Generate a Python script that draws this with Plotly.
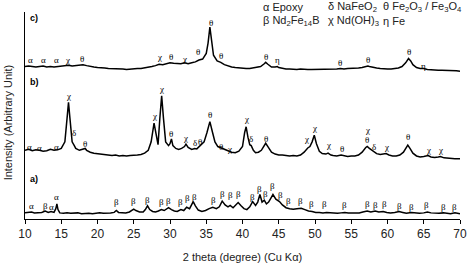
import plotly.graph_objects as go

# ---------------- data ----------------
# pattern a)
tt_a = [10, 10.5, 10.9, 11.3, 11.8, 12.3, 12.8, 13.2, 13.6, 14.0, 14.25, 14.4, 14.55, 14.8, 15.3, 15.8,
        16.3, 16.8, 17.3, 17.8, 18.3, 18.8, 19.3, 19.8, 20.3, 20.8, 21.3, 21.8, 22.3, 22.6, 22.9, 23.4,
        23.9, 24.4, 24.7, 25.0, 25.3, 25.8, 26.3, 26.6, 26.9, 27.2, 27.6, 28.0, 28.4, 28.8, 29.2, 29.5,
        29.8, 30.2, 30.6, 31.0, 31.5, 31.9, 32.3, 32.7, 33.0, 33.2, 33.5, 33.9, 34.4, 34.9, 35.4, 35.9,
        36.4, 36.8, 37.2, 37.6, 38.0, 38.3, 38.7, 39.0, 39.4, 39.8, 40.2, 40.6, 41.0, 41.4, 41.8, 42.1,
        42.4, 42.7, 43.0, 43.3, 43.6, 43.9, 44.2, 44.6, 45.1, 45.5, 46.0, 46.5, 47.0, 47.5, 48.1, 48.6,
        49.1, 49.6, 50.1, 50.6, 51.1, 51.6, 52.1, 52.6, 53.1, 53.6, 54.1, 54.6, 55.1, 55.6, 56.1, 56.6,
        57.2, 57.7, 58.3, 58.8, 59.4, 59.9, 60.4, 61.0, 61.6, 62.1, 62.6, 63.3, 63.8, 64.4, 65.0, 65.5,
        66.0, 66.6, 67.1, 67.7, 68.2, 68.7, 69.3, 69.8, 70]
int_a = [6.5, 7, 7.5, 6.5, 7, 7, 8.5, 7, 8, 7, 11, 16, 10, 6.5, 6, 6.5,
         6, 6, 6.5, 5.5, 6, 6, 5.5, 6, 6.5, 6, 6, 6.5, 7, 9, 7, 6.5,
         6.5, 7.5, 9, 10.5, 9, 7.5, 7.5, 10, 14, 10, 8, 7.5, 8.5, 10, 9, 11,
         12, 10, 8.5, 8, 10, 9, 12.5, 11, 15, 18.5, 14, 9.5, 8, 9, 11, 12.5,
         11, 13, 19, 15, 13, 14.5, 12, 14, 17.5, 14, 11, 10, 13, 18.5, 14.5, 18,
         26, 18, 20, 16, 18, 22, 26, 21, 18.5, 15, 12, 11, 10.5, 11, 11.5, 10,
         8.5, 8, 7, 7, 6.5, 7, 6.5, 6.5, 6, 6.5, 7, 6.5, 6.5, 6.5, 6.5, 7.5,
         8.5, 7.5, 8.5, 7.5, 8, 7, 6.5, 7, 8, 7, 6, 7, 6.5, 6, 6.5, 7.5,
         6.5, 6, 6, 6.5, 6, 5.5, 6.5, 5.5, 5.5]

# pattern b)
tt_b = [10, 10.5, 11, 11.5, 12, 12.5, 13, 13.5, 14, 14.5, 15, 15.5, 15.8, 16.0, 16.2, 16.5, 16.8, 17,
        17.5, 18, 18.3, 18.5, 19, 19.5, 20, 20.5, 21, 21.5, 22, 22.5, 23, 23.5, 24, 24.5, 25, 25.5,
        26, 26.5, 27, 27.4, 27.8, 28.1, 28.35, 28.6, 28.85, 29.1, 29.4, 29.8, 30.0, 30.2, 30.4, 30.8,
        31.2, 31.6, 32, 32.2, 32.5, 33, 33.4, 33.7, 34.2, 34.7, 35.1, 35.5, 35.8, 36.2, 36.6, 37.0,
        37.5, 38, 38.5, 39, 39.5, 40, 40.3, 40.5, 40.75, 41.0, 41.2, 41.5, 41.8, 42.2, 42.6, 43, 43.2,
        43.5, 44, 44.5, 45, 45.5, 46, 46.5, 47, 47.5, 48, 48.5, 49, 49.3, 49.6, 49.9, 50.2, 50.6, 51,
        51.5, 51.8, 52.2, 52.5, 53, 53.6, 54, 54.5, 55, 55.5, 56, 56.5, 57, 57.2, 57.5, 58, 58.5, 59,
        59.5, 59.8, 60.2, 60.7, 61.2, 61.7, 62.2, 62.6, 62.8, 63.1, 63.5, 64, 64.5, 65, 65.6, 66, 66.5,
        67, 67.3, 67.8, 68.3, 68.8, 69.3, 70]
int_b = [13, 14, 12.5, 13.5, 13, 12, 12.5, 14, 13, 13.5, 15, 22, 47, 64, 47, 22, 18, 15,
         13, 14, 15, 13, 11, 10, 9.5, 9, 8.5, 8, 7.5, 8, 7, 7.5, 7, 7.5, 7.5, 8,
         8.5, 10, 13, 22, 42, 27, 19, 47, 71, 47, 22, 18, 20, 25, 18, 15,
         14, 15, 17, 19.5, 16, 14, 15, 14.5, 18, 22, 32, 43.5, 34, 22, 17, 15.5,
         14, 12.5, 11, 10.5, 12, 17, 32, 38, 27, 19, 18, 13, 10.5, 11, 13, 18, 20.5,
         17, 11, 9, 8, 8, 7.5, 7, 7.5, 7, 8, 11, 15.5, 17, 22, 29, 20, 12, 9.5,
         9, 10, 8, 7.5, 7, 8, 7, 6.5, 7, 7, 8, 11, 16, 17, 15, 12, 9.5, 8.5,
         9, 9.5, 8, 7, 7, 8, 11, 16, 18.5, 15, 10, 7, 6, 6.5, 7.5, 6, 5.5,
         6, 6.5, 5, 4.5, 4.5, 4, 4]

# pattern c)
tt_c = [10, 10.5, 11, 11.5, 12, 12.5, 13, 13.5, 14, 14.5, 15, 15.5, 16, 16.5, 17, 17.5, 18, 18.5,
        19, 19.5, 20, 20.5, 21, 21.5, 22, 22.5, 23, 23.5, 24, 24.5, 25, 25.5, 26, 26.5, 27, 27.5,
        28, 28.5, 29, 29.5, 30, 30.5, 31, 31.5, 32, 32.5, 33, 33.5, 34, 34.5, 35, 35.25, 35.5, 35.7,
        36, 36.5, 37, 37.5, 38, 38.5, 39, 39.5, 40, 40.5, 41, 41.5, 42, 42.5, 43, 43.2, 43.5, 44,
        44.5, 44.8, 45, 45.5, 46, 46.5, 47, 47.5, 48, 48.5, 49, 49.5, 50, 50.5, 51, 51.5, 52, 52.5,
        53, 53.5, 54, 54.5, 55, 55.5, 56, 56.5, 57, 57.3, 57.5, 58, 58.5, 59, 59.5, 60, 60.5, 61,
        61.5, 62, 62.5, 62.9, 63.2, 63.5, 64, 64.5, 65, 65.5, 66, 66.5, 67, 67.5, 68, 68.5, 69, 69.5, 70]
int_c = [12, 12.5, 12, 11.5, 12, 12.5, 11.5, 12, 11.5, 12, 12, 12.5, 13.5, 12.5, 13, 13.5, 14, 13,
         12, 11.5, 11, 11, 10.5, 10, 10, 9.5, 10, 9.5, 9, 9.5, 9.5, 10, 10, 10.5, 11, 12,
         13, 14.5, 14, 15, 16, 15.5, 15, 15, 16, 15, 16, 17, 19, 20, 26, 37, 54, 42,
         24, 18, 16.5, 14, 12.5, 11.5, 11, 10.5, 10, 10, 10, 10.5, 11, 12, 15, 16.5, 14.5, 11.5,
         11.5, 12, 11, 10, 9.5, 9.5, 9, 9, 9.5, 9, 9, 9, 9, 9, 9, 9.5, 9, 9.5,
         9.5, 10, 9.5, 10, 10, 10, 10.5, 11, 12, 12.5, 12, 11, 10.5, 10, 9.5, 9.5, 9.5, 10,
         10.5, 12, 16, 20.5, 18, 14, 11, 10, 10, 9, 8.5, 8.5, 8, 8, 8, 7.5, 7.5, 7.5, 7]

# peak labels: (2theta, symbol, label height)
labels_a = [(10.9, "α", 13.7), (12.8, "β", 13.7), (13.6, "α", 13), (14.4, "α", 23.7),
            (22.6, "β", 17.7), (25.0, "β", 18.7), (26.9, "β", 19.7), (28.8, "β", 17.7),
            (29.8, "β", 19.3), (31.5, "β", 17.7), (32.4, "β", 22), (33.4, "β", 23.7),
            (36.0, "β", 20.3), (37.2, "β", 27), (38.3, "β", 26), (39.5, "β", 27),
            (41.4, "β", 23.7), (42.4, "β", 32), (43.2, "β", 27), (44.2, "β", 35.3),
            (45.2, "β", 26), (46.3, "β", 18.7), (48.0, "β", 18.7), (49.5, "β", 16),
            (51.3, "β", 16), (54.0, "β", 15.3), (57.2, "β", 16), (58.4, "β", 15.3),
            (59.6, "β", 16), (61.6, "β", 13.7), (63.3, "β", 13), (65.4, "β", 14.7),
            (67.7, "β", 13), (69.2, "β", 13)]
labels_b = [(10.6, "α", 76), (12.0, "α", 75.5), (14.4, "α", 76.5), (16.0, "χ", 131),
            (16.7, "δ", 91), (18.3, "θ", 79.7), (27.8, "χ", 109.7), (28.8, "χ", 138),
            (30.2, "θ", 90.3), (32.2, "χ", 86.3), (33.4, "δ", 80.3), (34.2, "θ", 82),
            (35.5, "θ", 110.3), (37.0, "θ", 76), (38.2, "χ", 74.7), (40.5, "χ", 106),
            (41.2, "δ", 85.3), (43.2, "θ", 85.3), (48.8, "χ", 85.3), (49.9, "χ", 97),
            (51.9, "χ", 78.7), (53.7, "θ", 74.3), (57.2, "χ", 95), (57.2, "θ", 84.3),
            (58.1, "δ", 76.3), (59.8, "χ", 77), (62.8, "θ", 87), (65.6, "χ", 73.7),
            (67.3, "χ", 73.7)]
labels_c = [(10.8, "α", 169.3), (12.6, "α", 168.7), (14.3, "α", 169), (15.9, "χ", 169.5),
            (17.9, "θ", 170.3), (28.6, "χ", 172), (30.1, "θ", 172.7), (32.0, "χ", 170.3),
            (33.9, "θ", 177), (35.6, "θ", 208), (37.1, "θ", 173.7), (43.2, "θ", 172.7),
            (44.8, "η", 168.7), (53.4, "θ", 166), (57.3, "θ", 168.7), (63.0, "θ", 177),
            (64.9, "η", 162.7)]

panel_names = ["a)", "b)", "c)"]
legend_rows = [["α Epoxy", "δ NaFeO<sub>2</sub>", "θ Fe<sub>2</sub>O<sub>3</sub> / Fe<sub>3</sub>O<sub>4</sub>"],
               ["β Nd<sub>2</sub>Fe<sub>14</sub>B", "χ Nd(OH)<sub>3</sub>", "η Fe"]]
x_ticks = [10, 15, 20, 25, 30, 35, 40, 45, 50, 55, 60, 65, 70]

# ---------------- presentation ----------------
offsets = [0, 60, 150]
W, H = 474, 268
ML, MR, MT, MB = 25, 7, 12, 36
PW, PH = W - ML - MR, H - MT - MB

def px_to_paper(px, py):
    return (px - ML) / PW, (H - MB - py) / PH

fig = go.Figure()
for tt, iv, off in zip([tt_a, tt_b, tt_c], [int_a, int_b, int_c], offsets):
    fig.add_trace(go.Scatter(x=tt, y=[v + off for v in iv], mode="lines",
                             line=dict(color="black", width=1.5), showlegend=False,
                             hoverinfo="skip"))

annos = []
for lab_list in [labels_a, labels_b, labels_c]:
    for (x, s, y) in lab_list:
        annos.append(dict(x=x, y=y, xref="x", yref="y", text=s, showarrow=False, borderpad=0,
                          font=dict(family="Liberation Serif", size=9, color="black")))

panel_py = [189, 86, 18]
for name, py in zip(panel_names, panel_py):
    xp, yp = px_to_paper(28, py)
    annos.append(dict(x=xp, y=yp, xref="paper", yref="paper", text="<b>" + name + "</b>",
                      showarrow=False, xanchor="left", yanchor="middle",
                      font=dict(family="Liberation Sans", size=9, color="black")))

col_px = [266, 332, 388]
row_py = [7, 22]
for r, row in enumerate(legend_rows):
    for c, txt in enumerate(row):
        xp, yp = px_to_paper(col_px[c], row_py[r])
        annos.append(dict(x=xp, y=yp, xref="paper", yref="paper", text=txt, showarrow=False,
                          xanchor="left", yanchor="middle", borderpad=0,
                          font=dict(family="Liberation Sans", size=11, color="#222")))

xp, yp = px_to_paper(8, 129)
annos.append(dict(x=xp, y=yp, xref="paper", yref="paper", text="Intensity (Arbitrary Unit)",
                  textangle=-90, showarrow=False, xanchor="center", yanchor="middle",
                  font=dict(family="Liberation Sans", size=11, color="#222")))

fig.update_layout(
    width=W, height=H, margin=dict(l=ML, r=MR, t=MT, b=MB),
    paper_bgcolor="white", plot_bgcolor="white",
    annotations=annos,
    xaxis=dict(range=[10, 70], tickvals=x_ticks, ticks="outside", ticklen=4,
               tickcolor="black", showline=True, linecolor="black", linewidth=1,
               showgrid=False, zeroline=False,
               tickfont=dict(family="Liberation Sans", size=12, color="#222"),
               title=dict(text="2 theta (degree) (Cu Kα)", standoff=12,
                          font=dict(family="Liberation Sans", size=11, color="#222"))),
    yaxis=dict(range=[0, 220], showline=True, linecolor="black", linewidth=1,
               showticklabels=False, ticks="", showgrid=False, zeroline=False),
)

fig.write_html("out.html")
